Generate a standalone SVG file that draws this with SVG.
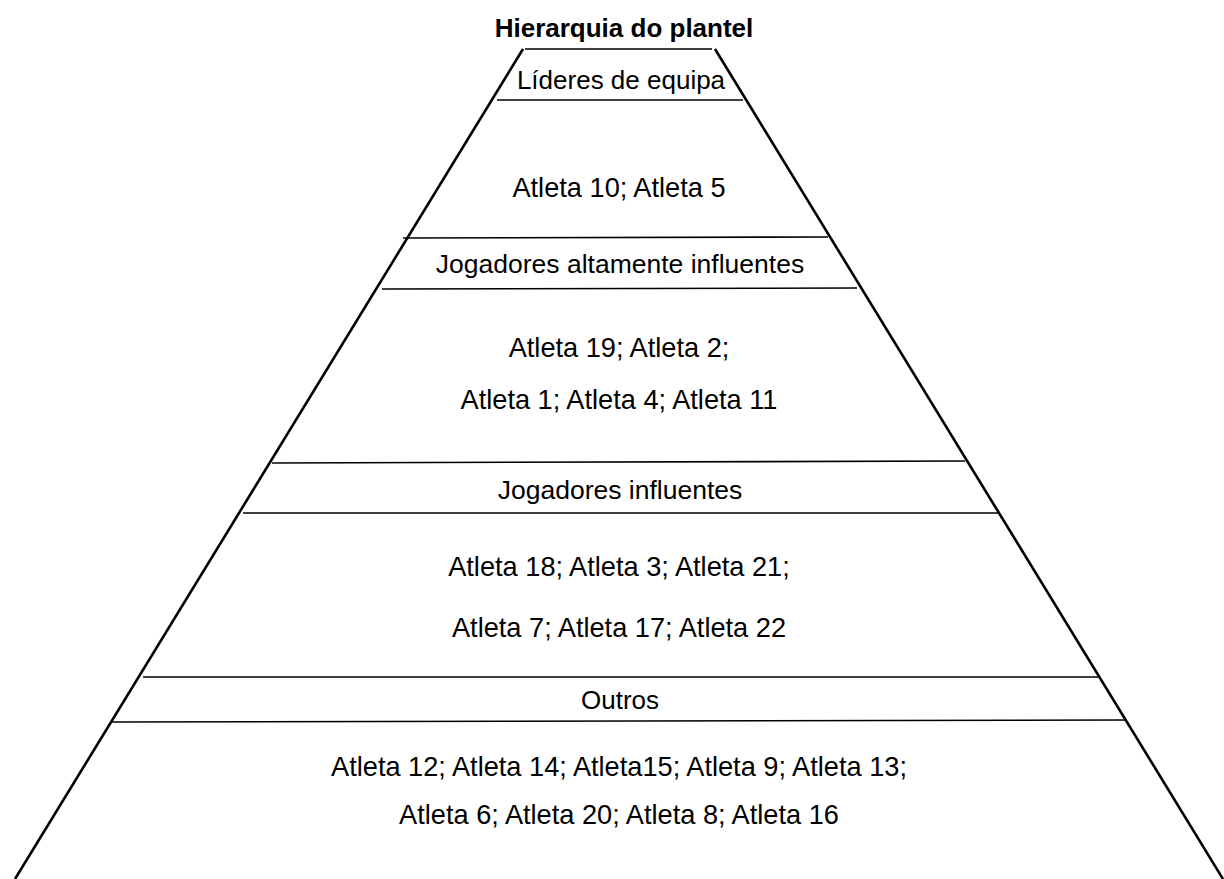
<svg xmlns="http://www.w3.org/2000/svg" width="1224" height="879" viewBox="0 0 1224 879">
<style>
text{font-family:"Liberation Sans",Arial,sans-serif;font-size:26px;fill:#000;text-anchor:middle}
.t{font-weight:bold}
.a{font-size:27.2px}
.l{font-size:26.5px}
.h{stroke:#000;stroke-width:1.6;fill:none}
.d{stroke:#000;stroke-width:2.6;fill:none}
</style>
<rect width="1224" height="879" fill="#fff"/>
<g id="title"><text class="t" x="624" y="37">Hierarquia do plantel</text></g>
<g id="outline">
<line class="d" x1="523" y1="49" x2="15" y2="879"/>
<line class="d" x1="715" y1="49" x2="1223" y2="879"/>
</g>
<g id="tier-lideres">
<line class="h" x1="525" y1="49" x2="712" y2="49"/>
<text x="621" y="89">Líderes de equipa</text>
<line class="h" x1="497" y1="100" x2="743" y2="100"/>
<text class="a" x="619" y="197">Atleta 10; Atleta 5</text>
</g>
<g id="tier-altamente">
<line class="h" x1="403" y1="238" x2="828" y2="237"/>
<text class="l" x="620" y="273">Jogadores altamente influentes</text>
<line class="h" x1="382" y1="289" x2="857" y2="288"/>
<text class="a" x="619" y="357">Atleta 19; Atleta 2;</text>
<text class="a" x="619" y="409">Atleta 1; Atleta 4; Atleta 11</text>
</g>
<g id="tier-influentes">
<line class="h" x1="272" y1="463" x2="965" y2="461"/>
<text class="l" x="620" y="499">Jogadores influentes</text>
<line class="h" x1="243" y1="513" x2="998" y2="513"/>
<text class="a" x="619" y="576">Atleta 18; Atleta 3; Atleta 21;</text>
<text class="a" x="619" y="637">Atleta 7; Atleta 17; Atleta 22</text>
</g>
<g id="tier-outros">
<line class="h" x1="143" y1="677" x2="1098" y2="677"/>
<text x="620" y="709">Outros</text>
<line class="h" x1="112" y1="722" x2="1126" y2="720"/>
<text class="a" x="619" y="776">Atleta 12; Atleta 14; Atleta15; Atleta 9; Atleta 13;</text>
<text class="a" x="619" y="824">Atleta 6; Atleta 20; Atleta 8; Atleta 16</text>
</g>
<g id="connectors"/>
</svg>
